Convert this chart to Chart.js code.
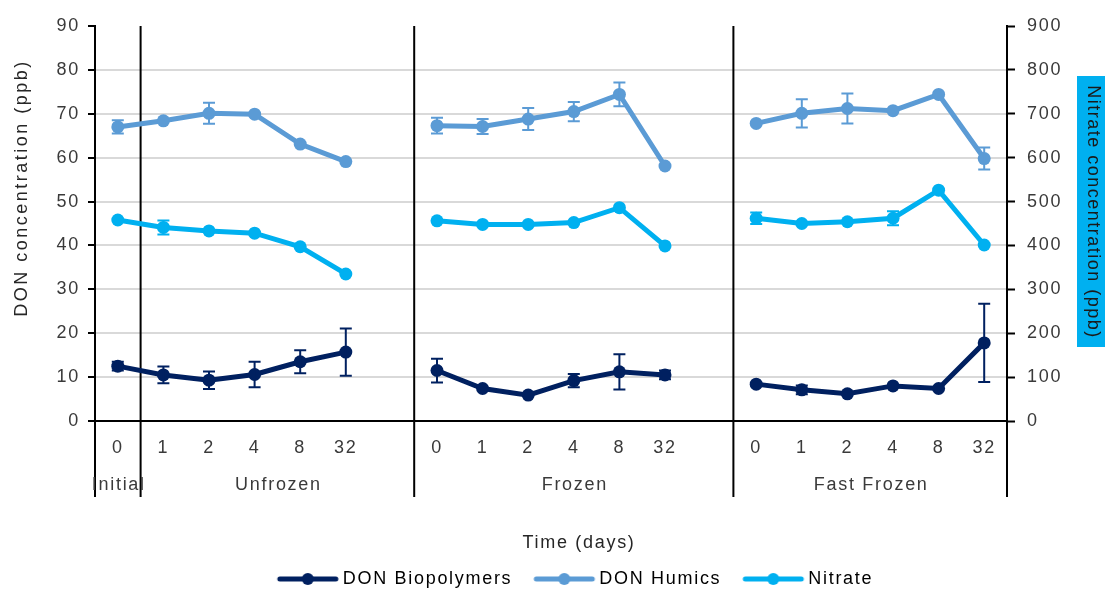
<!DOCTYPE html>
<html lang="en">

<head>
    <meta charset="UTF-8">
    <title>DON and nitrate concentration</title>
    <script src="https://cdn.jsdelivr.net/npm/chart.js"></script>
    <style>
        body {
            margin: 0;
            background: #fff;
        }

        .container {
            width: 1105px;
            height: 589px;
            position: relative;
        }
    </style>
</head>

<body>
    <div class="container">
        <canvas id="grafico"></canvas>
    </div>
    <script>
        // categories (days); the empty slot separates the treatment groups
        const days = ['0', '1', '2', '4', '8', '32', '', '0', '1', '2', '4', '8', '32', '', '0', '1', '2', '4', '8', '32'];
        const groupNames = ['Initial', 'Unfrozen', 'Frozen', 'Fast Frozen'];
        const groupFirst = [0, 1, 7, 14];
        const groupLast = [0, 6, 13, 19];

        // DON (ppb), left axis
        const bioValues = [12.5, 10.5, 9.3, 10.6, 13.5, 15.7, null, 11.5, 7.4, 5.9, 9.2, 11.2, 10.5, null, 8.4, 7.1, 6.2, 8.0, 7.4, 17.8];
        const bioErrors = [1.0, 1.9, 2.0, 2.9, 2.6, 5.4, null, 2.7, 0, 0, 1.5, 4.0, 1.0, null, 0, 1.0, 0, 0, 0, 8.9];
        const humicValues = [67.0, 68.4, 70.1, 69.9, 63.1, 59.1, null, 67.3, 67.1, 68.8, 70.5, 74.4, 58.1, null, 67.8, 70.1, 71.2, 70.7, 74.4, 59.8];
        const humicErrors = [1.5, 0, 2.4, 0, 0, 0, null, 1.8, 1.7, 2.5, 2.2, 2.7, 0, null, 0, 3.2, 3.4, 0, 0, 2.5];

        // Nitrate (ppb), right axis
        const nitrateValues = [458, 441, 433, 428, 397, 335, null, 456, 448, 448, 452, 486, 399, null, 462, 450, 454, 462, 526, 401];
        const nitrateErrors = [0, 16, 0, 0, 0, 0, null, 0, 0, 0, 0, 0, 0, null, 13, 0, 0, 16, 0, 0];

        const fontFamily = '"Liberation Sans", Arial, sans-serif';
        const textColor = '#3a3a3a';
        const gap = '1.7px';

        Chart.defaults.font.family = fontFamily;
        Chart.defaults.font.size = 18;
        Chart.defaults.color = textColor;

        // the source text is rendered a bit wider than plain Arial
        const spacing = {
            id: 'spacing',
            beforeLayout(chart) { chart.ctx.letterSpacing = gap; },
            beforeDraw(chart) { chart.ctx.letterSpacing = gap; }
        };

        // legend sits slightly right of centre in the original
        const moveLegend = {
            id: 'moveLegend',
            afterLayout(chart) {
                const lg = chart.legend;
                lg.left += 25; lg.right += 25;
                lg.top += 9; lg.bottom += 9;
            }
        };

        const errorBars = {
            id: 'errorBars',
            afterDatasetsDraw(chart) {
                const ctx = chart.ctx;
                chart.data.datasets.forEach((ds, di) => {
                    const meta = chart.getDatasetMeta(di);
                    const scale = chart.scales[ds.yAxisID];
                    ctx.save();
                    ctx.strokeStyle = ds.borderColor;
                    ctx.lineWidth = 2;
                    meta.data.forEach((pt, i) => {
                        const v = ds.data[i];
                        const e = ds.errors[i];
                        if (v === null || !e) return;
                        const top = scale.getPixelForValue(v + e);
                        const bot = scale.getPixelForValue(v - e);
                        ctx.beginPath();
                        ctx.moveTo(pt.x, top);
                        ctx.lineTo(pt.x, bot);
                        ctx.moveTo(pt.x - 6, top);
                        ctx.lineTo(pt.x + 6, top);
                        ctx.moveTo(pt.x - 6, bot);
                        ctx.lineTo(pt.x + 6, bot);
                        ctx.stroke();
                    });
                    ctx.restore();
                });
            }
        };

        // group separators, group names and axis titles
        const groups = {
            id: 'groups',
            beforeDatasetsDraw(chart) {
                const { ctx, chartArea: a, scales: { x } } = chart;
                const half = (x.getPixelForValue(1) - x.getPixelForValue(0)) / 2;
                const low = a.bottom + 76;
                ctx.save();
                ctx.strokeStyle = '#000';
                ctx.lineWidth = 2;
                ctx.beginPath();
                for (let g = 1; g < groupFirst.length; g++) {
                    const sx = x.getPixelForValue(groupFirst[g]) - half;
                    ctx.moveTo(sx, a.top);
                    ctx.lineTo(sx, low);
                }
                ctx.moveTo(a.left, a.bottom);
                ctx.lineTo(a.left, low);
                ctx.moveTo(a.right, a.bottom);
                ctx.lineTo(a.right, low);
                ctx.stroke();
                ctx.restore();
            },
            afterDraw(chart) {
                const { ctx, chartArea: a, scales: { x } } = chart;
                const half = (x.getPixelForValue(1) - x.getPixelForValue(0)) / 2;
                ctx.save();
                ctx.letterSpacing = gap;
                ctx.font = '18px ' + fontFamily;
                ctx.fillStyle = textColor;
                ctx.textAlign = 'center';
                ctx.textBaseline = 'middle';
                groupNames.forEach((name, g) => {
                    const l = x.getPixelForValue(groupFirst[g]) - half;
                    const r = x.getPixelForValue(groupLast[g]) + half;
                    ctx.fillText(name, (l + r) / 2 + 1, a.bottom + 64);
                });
                ctx.fillStyle = '#262626';
                ctx.fillText('Time (days)', (a.left + a.right) / 2 + 28, a.bottom + 122);

                // left title
                ctx.letterSpacing = '2.5px';
                ctx.save();
                ctx.translate(22, a.top + 162);
                ctx.rotate(-Math.PI / 2);
                ctx.fillText('DON concentration (ppb)', 0, 0);
                ctx.restore();

                // right title on a coloured box
                ctx.letterSpacing = '1.5px';
                ctx.fillStyle = '#00B0F0';
                ctx.fillRect(a.right + 70, a.top + 50, 30, 271);
                ctx.fillStyle = '#1a1a1a';
                ctx.save();
                ctx.translate(a.right + 86, a.top + 186);
                ctx.rotate(Math.PI / 2);
                ctx.fillText('Nitrate concentration (ppb)', 0, 0);
                ctx.restore();
                ctx.restore();
            }
        };

        function legendSymbol(color) {
            const c = document.createElement('canvas');
            c.width = 64;
            c.height = 16;
            const g = c.getContext('2d');
            g.strokeStyle = color;
            g.lineWidth = 5;
            g.lineCap = 'round';
            g.beginPath();
            g.moveTo(4, 8);
            g.lineTo(60, 8);
            g.stroke();
            g.fillStyle = color;
            g.beginPath();
            g.arc(32, 8, 6, 0, Math.PI * 2);
            g.fill();
            return c;
        }

        function series(label, values, errors, color, axis) {
            return {
                label: label,
                data: values,
                errors: errors,
                yAxisID: axis,
                borderColor: color,
                backgroundColor: color,
                pointBackgroundColor: color,
                pointBorderWidth: 0,
                pointRadius: 6.5,
                borderWidth: 5,
                tension: 0,
                spanGaps: false
            };
        }

        const ctx = document.getElementById('grafico').getContext('2d');
        new Chart(ctx, {
            type: 'line',
            data: {
                labels: days,
                datasets: [
                    series('DON Biopolymers', bioValues, bioErrors, '#002060', 'y'),
                    series('DON Humics', humicValues, humicErrors, '#5B9BD5', 'y'),
                    series('Nitrate', nitrateValues, nitrateErrors, '#00B0F0', 'y1')
                ]
            },
            options: {
                responsive: true,
                maintainAspectRatio: false,
                animation: false,
                layout: {
                    padding: { top: 26, left: 0, right: 0, bottom: 0 }
                },
                plugins: {
                    tooltip: { enabled: false },
                    legend: {
                        position: 'bottom',
                        labels: {
                            usePointStyle: true,
                            pointStyleWidth: 52,
                            boxHeight: 17,
                            padding: 26,
                            color: textColor,
                            font: { size: 18 },
                            generateLabels(chart) {
                                return chart.data.datasets.map((ds, i) => ({
                                    text: ds.label,
                                    datasetIndex: i,
                                    pointStyle: legendSymbol(ds.borderColor),
                                    fillStyle: ds.borderColor,
                                    strokeStyle: ds.borderColor,
                                    lineWidth: 0,
                                    hidden: false
                                }));
                            }
                        }
                    }
                },
                scales: {
                    x: {
                        type: 'category',
                        offset: true,
                        grid: { display: false, drawTicks: false },
                        border: { display: true, color: '#000', width: 2 },
                        ticks: { autoSkip: false, maxRotation: 0, padding: 16, color: textColor },
                        afterFit(scale) { scale.height = 114; }
                    },
                    y: {
                        position: 'left',
                        min: 0,
                        max: 90,
                        ticks: { stepSize: 10, padding: 8, color: textColor },
                        grid: {
                            lineWidth: 2,
                            tickLength: 7,
                            tickWidth: 2,
                            tickColor: '#000',
                            color: c => (c.tick.value === 0 || c.tick.value === 90) ? 'rgba(0,0,0,0)' : '#D9D9D9'
                        },
                        border: { color: '#000', width: 2 },
                        afterFit(scale) { scale.width = 95; }
                    },
                    y1: {
                        position: 'right',
                        min: 0,
                        max: 900,
                        ticks: { stepSize: 100, padding: 12, color: textColor },
                        grid: {
                            drawOnChartArea: false,
                            tickLength: 8,
                            tickWidth: 2,
                            tickColor: '#000'
                        },
                        border: { color: '#000', width: 2 },
                        afterFit(scale) { scale.width = 98; }
                    }
                }
            },
            plugins: [spacing, moveLegend, errorBars, groups]
        });
    </script>
</body>

</html>
